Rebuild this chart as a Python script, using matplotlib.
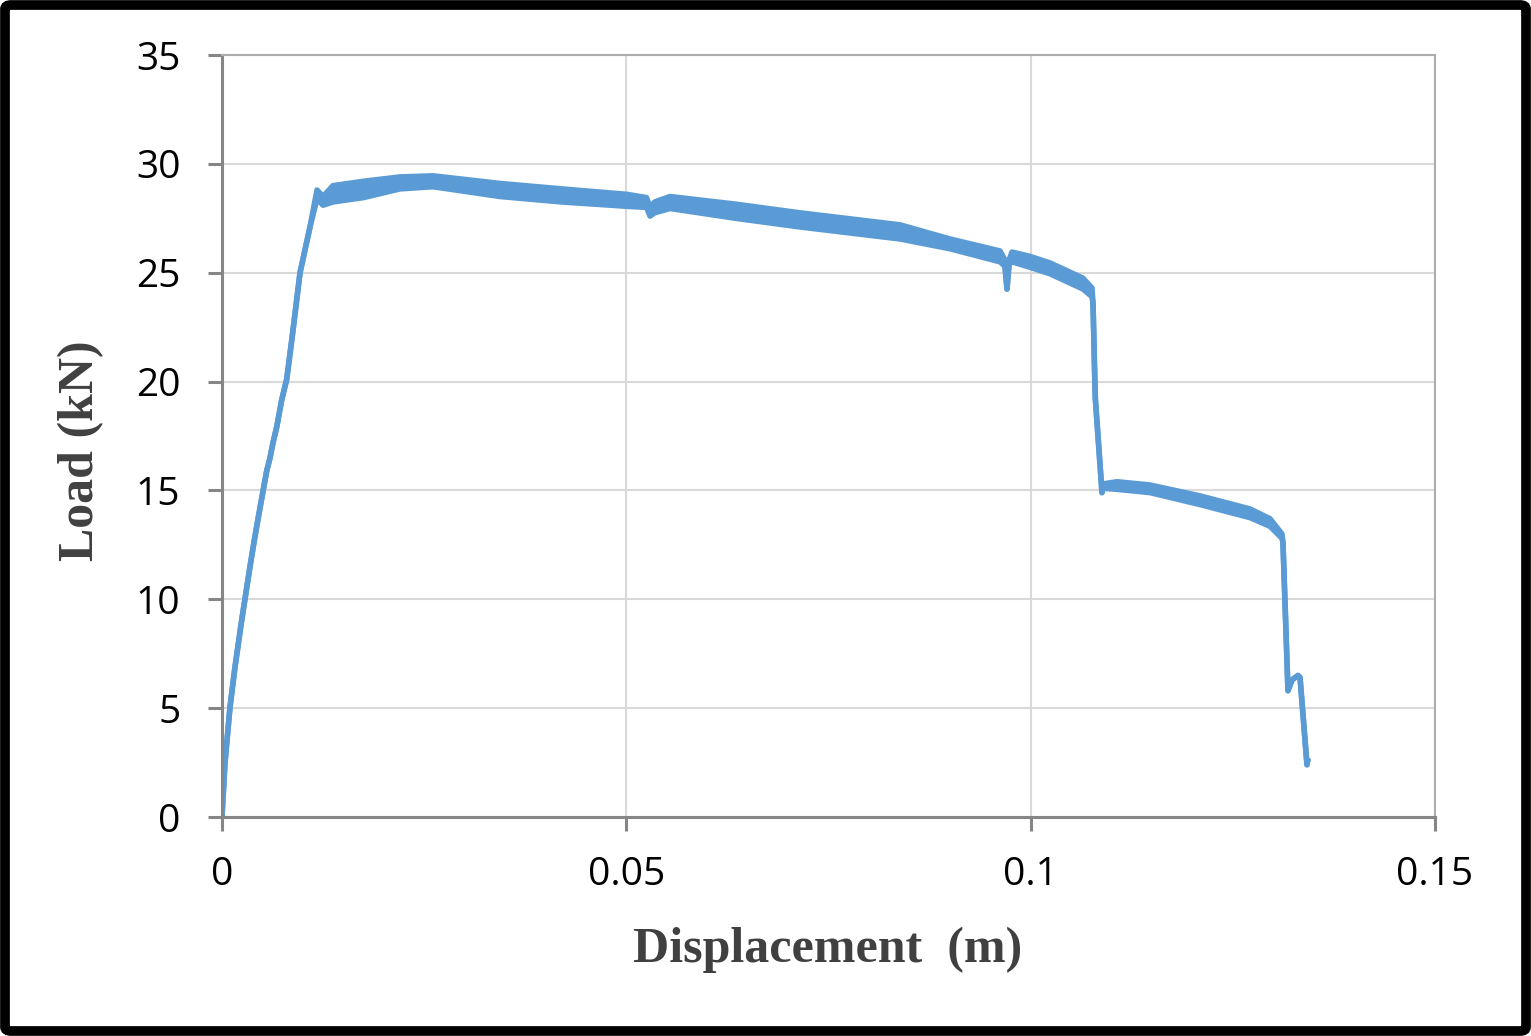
import matplotlib.pyplot as plt
from matplotlib.patches import FancyBboxPatch

# displacement (m), upper and lower edge of the load trace (kN)
disp = [0.0, 0.00037, 0.00099, 0.00161, 0.00244, 0.00346, 0.00408, 0.0047,
        0.00553, 0.00594, 0.00631, 0.00676, 0.00738, 0.008, 0.00866, 0.00965,
        0.01088, 0.01175, 0.01249, 0.01373, 0.0175, 0.02201, 0.02609, 0.03438,
        0.042, 0.05008, 0.0525, 0.05293, 0.0535, 0.0554, 0.0635, 0.07148,
        0.08384, 0.09002, 0.09621, 0.0968, 0.09707, 0.09735, 0.09769, 0.09992,
        0.10239, 0.10647, 0.10758, 0.10771, 0.10795, 0.108, 0.10882, 0.10894,
        0.11068, 0.11476, 0.12094, 0.12712, 0.1296, 0.13108, 0.1312, 0.13182,
        0.13232, 0.13306, 0.13331, 0.13417, 0.1343]
load_hi = [0.0, 2.5, 5.05, 6.9, 9.05, 11.5, 12.9, 14.2,
           15.9, 16.5, 17.2, 17.9, 19.15, 20.1, 22.0, 25.0,
           27.1, 28.8, 28.5, 29.0, 29.2, 29.4, 29.45, 29.1,
           28.85, 28.6, 28.45, 28.0, 28.25, 28.5, 28.15, 27.75,
           27.2, 26.55, 26.0, 25.6, 24.25, 25.6, 25.95, 25.75,
           25.45, 24.75, 24.3, 23.6, 19.8, 19.2, 14.9, 15.3,
           15.4, 15.25, 14.75, 14.15, 13.7, 13.0, 12.6, 5.8,
           6.3, 6.5, 6.4, 2.4, 2.7]
load_lo = [0.0, 2.5, 5.05, 6.9, 9.05, 11.5, 12.9, 14.2,
           15.9, 16.5, 17.2, 17.9, 19.15, 20.1, 22.0, 25.0,
           27.1, 28.4, 28.1, 28.25, 28.45, 28.85, 28.95, 28.5,
           28.25, 28.05, 28.0, 27.6, 27.75, 27.95, 27.5, 27.1,
           26.55, 26.1, 25.5, 25.3, 24.25, 25.4, 25.5, 25.25,
           24.95, 24.25, 23.9, 23.6, 19.8, 19.2, 14.9, 15.1,
           15.05, 14.9, 14.35, 13.75, 13.35, 12.8, 12.6, 5.8,
           6.3, 6.5, 6.4, 2.4, 2.7]

x_ticks = [0, 0.05, 0.1, 0.15]
x_labels = ["0", "0.05", "0.1", "0.15"]
y_ticks = [0, 5, 10, 15, 20, 25, 30, 35]

line_color = "#5B9BD5"

fig = plt.figure(figsize=(15.31, 10.36), dpi=100)
ax = fig.add_axes([222 / 1531, 1 - 817 / 1036, 1213 / 1531, 762 / 1036])

ax.fill_between(disp, load_lo, load_hi, color=line_color, linewidth=0)
ax.plot(disp, load_hi, color=line_color, lw=4.0, solid_capstyle="butt")
ax.plot(disp, load_lo, color=line_color, lw=4.0, solid_capstyle="butt")

ax.set_xlim(0, 0.15)
ax.set_ylim(0, 35)
ax.set_xticks(x_ticks)
ax.set_xticklabels(x_labels)
ax.set_yticks(y_ticks)

ax.grid(True, color="#D9D9D9", lw=1.5)
ax.set_axisbelow(True)
for side in ["left", "bottom"]:
    ax.spines[side].set_color("#868686")
    ax.spines[side].set_linewidth(2.2)
for side in ["top", "right"]:
    ax.spines[side].set_color("#ADADAD")
    ax.spines[side].set_linewidth(1.5)

ax.tick_params(axis="both", direction="out", length=10, width=2.2,
               color="#868686", labelsize=28, labelcolor="black")
ax.tick_params(axis="y", pad=20)
ax.tick_params(axis="x", pad=18)
for lab in ax.get_xticklabels() + ax.get_yticklabels():
    lab.set_fontfamily("Open Sans")

fig.text(828 / 1531, 1 - 950 / 1036, "Displacement  (m)", ha="center", va="center",
         fontsize=36, fontweight="bold", family="Liberation Serif", color="#404040")
fig.text(81 / 1531, 1 - 451 / 1036, "Load (kN)", ha="center", va="center", rotation=90,
         fontsize=36, fontweight="bold", family="Liberation Serif", color="#404040")

# black frame around the whole picture
frame = FancyBboxPatch((5 / 1531, 5 / 1036), 1 - 10 / 1531, 1 - 10 / 1036,
                       boxstyle="round,pad=0,rounding_size=0.004",
                       transform=fig.transFigure, fill=False,
                       edgecolor="black", lw=7)
fig.patches.append(frame)

fig.savefig("out.png", dpi=100)
